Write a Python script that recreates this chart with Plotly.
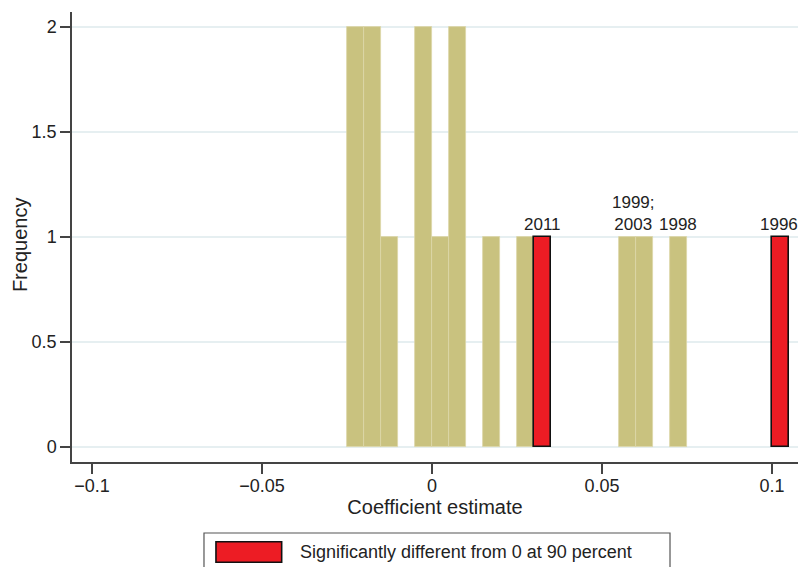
import plotly.graph_objects as go

# ---- data ----
bin_width = 0.005
gold_centers = [-0.0225, -0.0175, -0.0125, -0.0025, 0.0025, 0.0075, 0.0175, 0.0275, 0.0575, 0.0625, 0.0725]
gold_counts = [2, 2, 1, 2, 1, 2, 1, 1, 1, 1, 1]
red_centers = [0.0325, 0.1025]
red_counts = [1, 1]
label_x = [0.0325, 0.0592, 0.0725, 0.1022]
label_y = [1, 1, 1, 1]
label_text = ["2011", "1999;<br>2003", "1998", "1996"]
x_ticks = [-0.1, -0.05, 0, 0.05, 0.1]
x_ticklabels = ["\u22120.1", "\u22120.05", "0", "0.05", "0.1"]
y_ticks = [0, 0.5, 1, 1.5, 2]
y_ticklabels = ["0", "0.5", "1", "1.5", "2"]
legend_label = "Significantly different from 0 at 90 percent"

FONT = "Liberation Sans, Arial, Helvetica, sans-serif"
TXT = "#222222"
GOLD = "#C9C27F"
RED = "#ED1C24"

fig = go.Figure()
fig.add_trace(go.Bar(
    x=gold_centers, y=gold_counts, width=[bin_width] * len(gold_centers),
    marker=dict(color=GOLD, line=dict(color="#DCD6A8", width=0.8)),
    showlegend=False, hoverinfo="x+y",
))
fig.add_trace(go.Bar(
    x=red_centers, y=red_counts, width=[bin_width] * len(red_centers),
    marker=dict(color=RED, line=dict(color="#111111", width=1.6)),
    name=legend_label, showlegend=False, hoverinfo="x+y",
))

for lx, ly, lt in zip(label_x, label_y, label_text):
    fig.add_annotation(x=lx, y=ly, text=lt, showarrow=False, xref="x", yref="y",
                       yanchor="bottom", xanchor="center", yshift=2, borderpad=0,
                       font=dict(family=FONT, size=17, color=TXT))

# y-axis title placed as annotation to match reference position
fig.add_annotation(x=0, y=0.482, xref="paper", yref="paper", text="Frequency",
                   showarrow=False, textangle=-90, xanchor="center", yanchor="middle",
                   xshift=-52, font=dict(family=FONT, size=20, color=TXT))

# manual legend (box, swatch, text) in paper coordinates
fig.add_shape(type="rect", xref="paper", yref="paper",
              x0=0.1818, x1=0.8237, y0=-0.1578, y1=-0.26,
              line=dict(color="#555555", width=1.2), fillcolor="white", layer="above")
fig.add_shape(type="rect", xref="paper", yref="paper",
              x0=0.1983, x1=0.2888, y0=-0.1771, y1=-0.2229,
              line=dict(color="#111111", width=1.6), fillcolor=RED, layer="above")
fig.add_annotation(x=0.3109, y=-0.1993, xref="paper", yref="paper", text=legend_label,
                   showarrow=False, xanchor="left", yanchor="middle",
                   font=dict(family=FONT, size=18, color=TXT))

fig.update_layout(
    width=798, height=567,
    margin=dict(l=72, r=0, t=12, b=105, pad=0),
    paper_bgcolor="white", plot_bgcolor="white",
    barmode="overlay", bargap=0,
    font=dict(family=FONT, size=18, color=TXT),
    xaxis=dict(
        range=[-0.10588, 0.10765], tickvals=x_ticks, ticktext=x_ticklabels,
        ticks="outside", ticklen=10, tickwidth=1.5, tickcolor="#444444",
        showline=True, linecolor="#444444", linewidth=1.5,
        showgrid=False, zeroline=False, ticklabelstandoff=-3,
        tickfont=dict(family=FONT, size=18, color=TXT),
        title=dict(text="Coefficient estimate", font=dict(family=FONT, size=20, color=TXT), standoff=4),
    ),
    yaxis=dict(
        range=[-0.0714, 2.0714], tickvals=y_ticks, ticktext=y_ticklabels,
        ticks="outside", ticklen=10, tickwidth=1.5, tickcolor="#444444",
        showline=True, linecolor="#444444", linewidth=1.5,
        showgrid=True, gridcolor="#E6EFF1", gridwidth=1.5, zeroline=False,
        tickfont=dict(family=FONT, size=18, color=TXT),
    ),
)

fig.write_html("out.html")
